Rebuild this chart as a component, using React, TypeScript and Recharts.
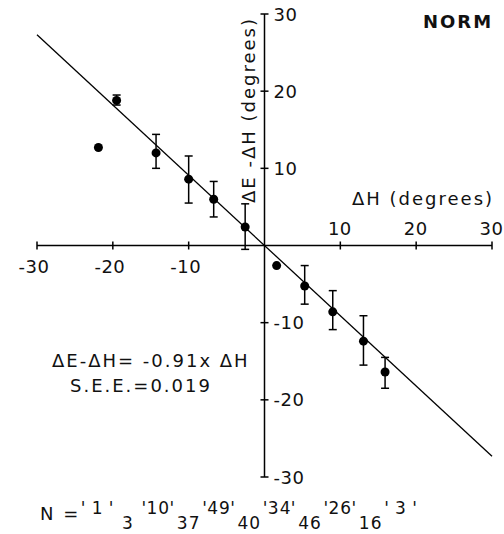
import React from "react"
import { ScatterChart, Scatter, XAxis, YAxis, ErrorBar, ReferenceLine, ReferenceDot } from "recharts"

const FONT = "'DejaVu Sans', sans-serif"

// mean ΔH of each bin and mean ΔE-ΔH
const deltaH = [-21.9, -19.5, -14.3, -10.0, -6.7, -2.55, 1.6, 5.3, 9.0, 13.05, 15.9]
const deltaEH = [12.7, 18.8, 12.0, 8.6, 6.0, 2.4, -2.6, -5.25, -8.6, -12.4, -16.4]
// error bar ends (null = no bar drawn)
const barTop = [null, 19.5, 14.4, 11.6, 8.3, 5.4, null, -2.6, -5.85, -9.1, -14.5]
const barBottom = [null, 18.2, 10.0, 5.5, 3.7, -0.5, null, -7.6, -10.9, -15.5, -18.5]
// N per bin
const binCenters = [-22, -18, -14, -10, -6, -2, 2, 6, 10, 14, 18]
const nCounts = [1, 3, 10, 37, 49, 40, 34, 46, 26, 16, 3]

const xTicks = [-30, -20, -10, 10, 20, 30]
const yTicks = [30, 20, 10, -10, -20, -30]
const slope = -0.91

const points = deltaH.map((x, i) => ({
  x,
  y: deltaEH[i],
  err: barTop[i] == null ? null : [deltaEH[i] - (barBottom[i] as number), (barTop[i] as number) - deltaEH[i]],
}))
const withBars = points.filter((p) => p.err)
const noBars = points.filter((p) => !p.err)

const textStyle = { fontFamily: FONT, fontSize: 18, fill: "#111", letterSpacing: 2 }
const tickStyle = { ...textStyle, letterSpacing: 0.5 }

const Dot = (props: any) => <circle cx={props.cx} cy={props.cy} r={4.5} fill="#000" />

const XTick = ({ cx, cy, value }: any) => (
  <g>
    <line x1={cx} y1={cy - 4} x2={cx} y2={cy + 4} stroke="#000" strokeWidth={1.5} />
    {value < 0 ? (
      <text x={cx + 12.5} y={cy + 27} textAnchor="end" style={tickStyle}>{value}</text>
    ) : (
      <text x={cx - 0.5} y={cy - 11} textAnchor="middle" style={tickStyle}>{value}</text>
    )}
  </g>
)

const YTick = ({ cx, cy, value }: any) => (
  <g>
    <line x1={cx - 4} y1={cy} x2={cx + 4} y2={cy} stroke="#000" strokeWidth={1.5} />
    <text x={cx + 9} y={cy + 6.5} textAnchor="start" style={tickStyle}>{value}</text>
  </g>
)

const NLabel = ({ cx, cy, value, raised }: any) =>
  raised ? (
    <g style={{ ...textStyle, fontSize: 17, letterSpacing: 1 }}>
      <text x={cx - 14} y={cy + 37} textAnchor="middle">'</text>
      <text x={cx} y={cy + 37} textAnchor="middle">{value}</text>
      <text x={cx + 14} y={cy + 37} textAnchor="middle">'</text>
    </g>
  ) : (
    <text x={cx} y={cy + 52} textAnchor="middle" style={{ ...textStyle, fontSize: 17, letterSpacing: 1 }}>{value}</text>
  )

export default function App() {
  return (
    <div style={{ position: "absolute", left: 0, top: 0, width: 504, height: 534, background: "#fff" }}>
      <ScatterChart width={504} height={534} margin={{ top: 14, right: 12, bottom: 57, left: 37 }}>
        <XAxis type="number" dataKey="x" domain={[-30, 30]} hide allowDataOverflow />
        <YAxis type="number" dataKey="y" domain={[-30, 30]} hide allowDataOverflow />
        <ReferenceLine y={0} stroke="#000" strokeWidth={1.5} />
        <ReferenceLine x={0} stroke="#000" strokeWidth={1.5} />
        <ReferenceLine
          segment={[{ x: -30, y: slope * -30 }, { x: 30, y: slope * 30 }]}
          stroke="#000"
          strokeWidth={1.3}
          ifOverflow="visible"
        />
        {xTicks.map((t) => (
          <ReferenceDot key={`xt${t}`} x={t} y={0} r={1} ifOverflow="visible" shape={(p: any) => <XTick {...p} value={t} />} />
        ))}
        {yTicks.map((t) => (
          <ReferenceDot key={`yt${t}`} x={0} y={t} r={1} ifOverflow="visible" shape={(p: any) => <YTick {...p} value={t} />} />
        ))}
        {binCenters.map((c, i) => (
          <ReferenceDot
            key={`n${i}`}
            x={c}
            y={-30}
            r={1}
            ifOverflow="visible"
            shape={(p: any) => <NLabel {...p} value={nCounts[i]} raised={i % 2 === 0} />}
          />
        ))}
        <Scatter data={withBars} isAnimationActive={false} shape={Dot}>
          <ErrorBar dataKey="err" direction="y" width={4} stroke="#000" strokeWidth={1.5} isAnimationActive={false} />
        </Scatter>
        <Scatter data={noBars} isAnimationActive={false} shape={Dot} />
      </ScatterChart>
      <svg width={504} height={534} style={{ position: "absolute", left: 0, top: 0, pointerEvents: "none" }}>
        <text x={423} y={28} style={{ ...textStyle, fontWeight: "bold" }}>NORM</text>
        <text x={352} y={205} style={textStyle}>ΔH (degrees)</text>
        <text x={255} y={110} textAnchor="middle" transform="rotate(-90 255 110)" style={textStyle}>ΔE -ΔH (degrees)</text>
        <text x={52} y={367} style={textStyle}>ΔE-ΔH= -0.91x ΔH</text>
        <text x={70} y={392} style={textStyle}>S.E.E.=0.019</text>
        <text x={40} y={520} style={textStyle}>N =</text>
      </svg>
    </div>
  )
}
